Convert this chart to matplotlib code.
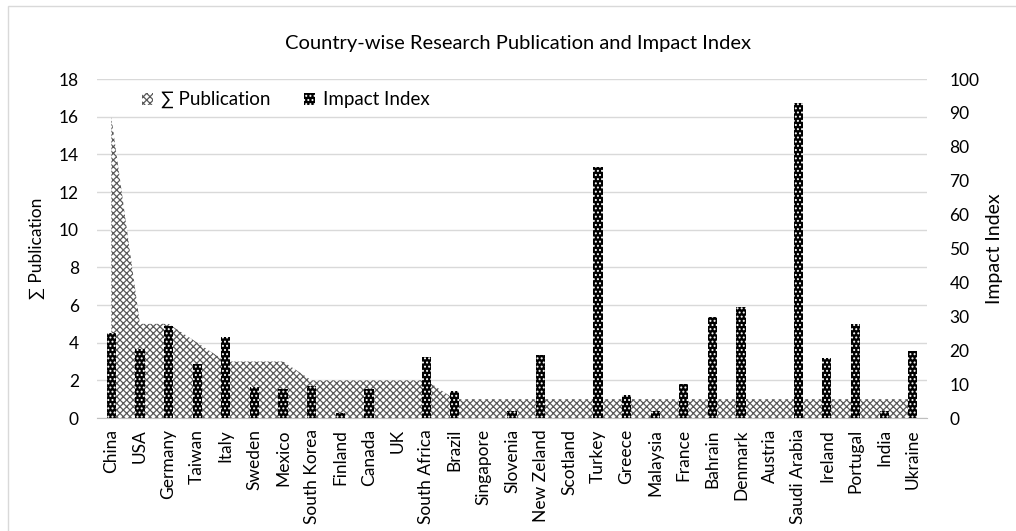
import numpy as np
import matplotlib
matplotlib.use("Agg")
import matplotlib.pyplot as plt
from matplotlib.patches import Patch, Rectangle

plt.rcParams['font.family'] = ['Lato', 'DejaVu Sans']
plt.rcParams['hatch.linewidth'] = 0.9

countries = ['China', 'USA', 'Germany', 'Taiwan', 'Italy', 'Sweden', 'Mexico',
             'South Korea', 'Finland', 'Canada', 'UK', 'South Africa', 'Brazil',
             'Singapore', 'Slovenia', 'New Zeland', 'Scotland', 'Turkey', 'Greece',
             'Malaysia', 'France', 'Bahrain', 'Denmark', 'Austria', 'Saudi Arabia',
             'Ireland', 'Portugal', 'India', 'Ukraine']
publications = [16, 5, 5, 4, 3, 3, 3, 2, 2, 2, 2, 2, 1, 1, 1, 1, 1, 1, 1,
                1, 1, 1, 1, 1, 1, 1, 1, 1, 1]
impact = [25, 20.5, 27, 16, 24, 9, 8.5, 9.5, 1.5, 8.5, 0, 18, 8, 0, 2, 18.5,
          0, 74, 6.7, 2, 10, 29.7, 32.6, 0, 93, 17.6, 27.6, 2, 19.7]

x = np.arange(len(countries))
area_col = '#5a5a5a'

fig = plt.figure(figsize=(10.16, 5.31), dpi=100)
ax = fig.add_axes([0.0955, 0.2128, 0.817, 0.6384])
ax2 = ax.twinx()

# area: publications
ax.fill_between(x, 0, publications, facecolor='white', edgecolor=area_col,
                hatch='xxxxx', lw=0, zorder=2)
ax.set_ylim(0, 18)
ax.set_yticks(np.arange(0, 19, 2))
ax.set_xlim(-0.5, len(countries) - 0.5)
ax.grid(axis='y', color='#d9d9d9', lw=1)
ax.set_axisbelow(True)

# bars: impact index
ax2.bar(x, impact, width=0.32, facecolor='black', edgecolor='white',
        hatch='....', lw=0, zorder=3)
ax2.set_ylim(0, 100)
ax2.set_yticks(np.arange(0, 101, 10))

for a in (ax, ax2):
    for s in a.spines.values():
        s.set_visible(False)
    a.tick_params(length=0, labelsize=12.5, colors='black')
ax.spines['bottom'].set_visible(True)
ax.spines['bottom'].set_color('#bfbfbf')

ax.set_xticks(x)
ax.set_xticklabels(countries, rotation=90)
ax.tick_params(axis='x', pad=8)
ax.tick_params(axis='y', pad=13)
ax2.tick_params(axis='y', pad=16)

ax.set_ylabel('∑ Publication', fontsize=12.5, labelpad=10)
ax2.set_ylabel('Impact Index', fontsize=14, labelpad=5)
fig.suptitle('Country-wise Research Publication and Impact Index',
             fontsize=14.5, x=0.51, y=0.935)

handles = [Patch(facecolor='white', edgecolor=area_col, hatch='xxxxx', lw=0),
           Patch(facecolor='black', edgecolor='white', hatch='....', lw=0)]
ax2.legend(handles, ['∑ Publication', 'Impact Index'], ncol=2, frameon=False,
           loc='center left', bbox_to_anchor=(0.123, 0.812),
           bbox_transform=fig.transFigure, fontsize=13.5,
           handlelength=0.6, handleheight=0.6, handletextpad=0.4,
           columnspacing=1.8)

fig.patches.append(Rectangle((0.0079, -0.05), 1.1, 0.9887 + 0.05,
                             transform=fig.transFigure, fill=False,
                             edgecolor='#d9d9d9', lw=1))

fig.savefig('out.png', dpi=100)
